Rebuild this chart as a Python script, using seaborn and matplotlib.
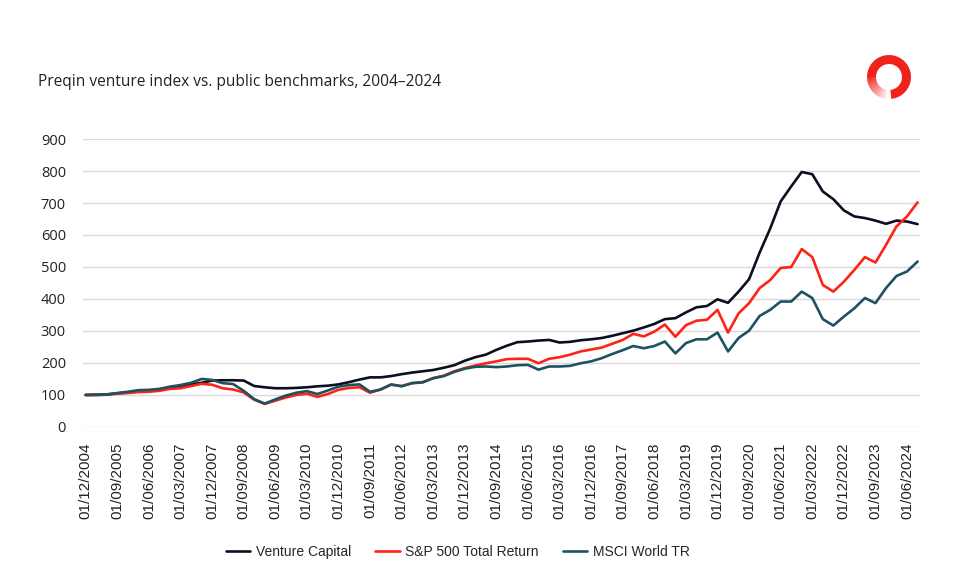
import matplotlib
matplotlib.use("Agg")
import matplotlib.pyplot as plt
from matplotlib.patches import Wedge
import seaborn as sns
import pandas as pd
import numpy as np

# quarterly index values, 01/12/2004 = 100
quarters = pd.date_range("2004-12-01", periods=80, freq="3MS")

venture_capital = [100, 101, 102, 105, 108, 111, 114, 117, 122, 128,
                   133, 138, 145, 146, 146, 145, 128, 124, 121, 121,
                   122, 124, 127, 129, 133, 140, 148, 155, 155, 159,
                   165, 170, 174, 178, 185, 193, 207, 218, 226, 241,
                   254, 265, 267, 270, 272, 264, 266, 271, 274, 278,
                   285, 293, 301, 311, 322, 337, 340, 358, 374, 378,
                   399, 388, 423, 462, 545, 620, 705, 752, 797, 790,
                   736, 712, 677, 658, 653, 645, 635, 645, 642, 634]

sp500_tr = [100, 100, 101, 104, 106, 109, 110, 113, 119, 121,
            128, 135, 132, 121, 117, 108, 85, 72, 82, 92,
            100, 104, 94, 103, 116, 122, 124, 107, 117, 132,
            128, 137, 139, 153, 160, 174, 184, 192, 199, 205,
            212, 213, 213, 199, 213, 218, 226, 236, 242, 248,
            260, 272, 291, 283, 298, 320, 282, 318, 332, 335,
            366, 295, 355, 387, 434, 459, 497, 500, 556, 531,
            444, 423, 454, 491, 531, 514, 569, 627, 658, 702]

msci_world_tr = [100, 100, 101, 106, 110, 115, 116, 119, 126, 131,
                 138, 150, 147, 137, 134, 113, 87, 73, 86, 98,
                 107, 112, 103, 114, 126, 131, 133, 110, 117, 133,
                 127, 137, 140, 152, 159, 172, 182, 188, 189, 187,
                 189, 193, 194, 179, 189, 189, 191, 199, 205, 215,
                 228, 240, 253, 246, 253, 267, 230, 262, 274, 274,
                 295, 236, 278, 301, 347, 366, 392, 392, 423, 403,
                 337, 317, 345, 371, 403, 387, 434, 472, 486, 517]

series_names = ["Venture Capital", "S&P 500 Total Return", "MSCI World TR"]
colors = ["#0b0f1f", "#ff2216", "#1d5260"]

df = pd.DataFrame({
    "idx": np.arange(len(quarters)),
    series_names[0]: venture_capital,
    series_names[1]: sp500_tr,
    series_names[2]: msci_world_tr,
})
long_df = df.melt(id_vars="idx", var_name="series", value_name="value")

sns.set_style("white")
plt.rcParams["font.family"] = ["Open Sans", "DejaVu Sans"]

fig = plt.figure(figsize=(9.6, 5.64), dpi=100)
ax = fig.add_axes([0.086, 0.243, 0.872, 0.5105])

sns.lineplot(data=long_df, x="idx", y="value", hue="series",
             hue_order=series_names, palette=colors, linewidth=1.9, ax=ax)

ax.set_ylim(0, 900)
ax.set_yticks(range(0, 901, 100))
ax.set_xlim(-0.3, 79.2)
tick_pos = list(range(0, len(quarters), 3))
ax.set_xticks(tick_pos)
ax.set_xticklabels([quarters[i].strftime("%d/%m/%Y") for i in tick_pos],
                   rotation=90, fontsize=11, family="Liberation Sans", color="#222222")
for lab in ax.get_yticklabels():
    lab.set_fontsize(10.5)
    lab.set_color("#222222")
ax.tick_params(axis="both", length=0)
ax.tick_params(axis="y", pad=12)
ax.tick_params(axis="x", pad=11)
ax.set_xlabel("")
ax.set_ylabel("")
ax.grid(axis="y", color="#d9d9d9", linewidth=1.0)
ax.grid(axis="x", visible=False)
ax.set_axisbelow(True)
for s in ax.spines.values():
    s.set_visible(False)

# legend along the bottom
handles, labels = ax.get_legend_handles_labels()
ax.legend_.remove()
fig.legend(handles, labels, loc="center", bbox_to_anchor=(0.477, 0.021), ncol=3,
           frameon=False, handlelength=1.75, handletextpad=0.4, columnspacing=1.75,
           prop={"family": "Liberation Sans", "size": 10})

fig.text(38 / 960, 1 - 82 / 564, "Preqin venture index vs. public benchmarks, 2004\u20132024",
         ha="left", va="center", fontsize=11.2, color="#222222")

# logo: red ring with a gap at the bottom, fading on the lower left
lax = fig.add_axes([864 / 960, 1 - 102 / 564, 50 / 960, 50 / 564])
lax.set_xlim(-25, 25)
lax.set_ylim(-25, 25)
lax.set_aspect("equal")
lax.axis("off")
lax.add_patch(Wedge((0, 0), 22, -84, 180, width=9, color="#f0231c", lw=0))
steps = 14
for k in range(steps):
    a0 = 180 + k * 82 / steps
    a1 = 180 + (k + 1) * 82 / steps + 0.5
    lax.add_patch(Wedge((0, 0), 22, a0, a1, width=9, color="#f0231c",
                        alpha=1 - 0.9 * (k + 1) / steps, lw=0))

fig.savefig("out.png", dpi=100)
